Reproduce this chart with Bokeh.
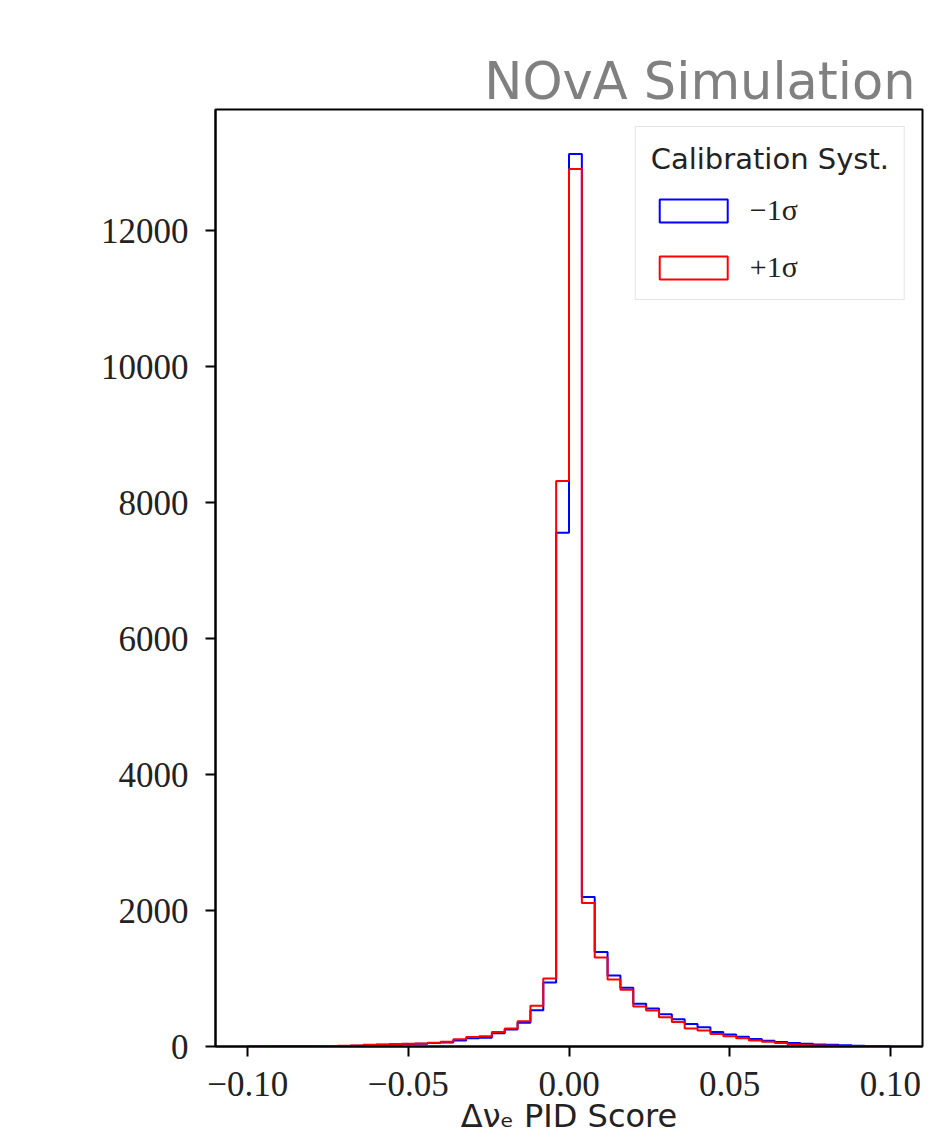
import numpy as np
from bokeh.plotting import figure
from bokeh.models import (Range1d, FixedTicker, CustomJSTickFormatter, Legend,
                          LegendItem)
from bokeh.embed import file_html
from bokeh.resources import INLINE

# ---- data -------------------------------------------------------------
bin_lo = -0.10
bin_hi = 0.10
n_bins = 50
bin_edges = np.round(np.linspace(bin_lo, bin_hi, n_bins + 1), 4)

# Calibration syst. -1 sigma (blue)
counts_minus = [1, 1, 2, 2, 3, 4, 6, 8, 12, 20,
                25, 30, 35, 40, 50, 60, 90, 120, 130, 195,
                250, 350, 535, 940, 7560, 13130, 2200, 1390, 1045, 865,
                630, 560, 475, 400, 330, 285, 215, 175, 145, 110,
                85, 65, 50, 40, 30, 24, 18, 12, 7, 3]
# Calibration syst. +1 sigma (red)
counts_plus = [1, 2, 2, 3, 4, 5, 7, 10, 15, 25,
               30, 35, 40, 45, 55, 70, 105, 140, 150, 215,
               265, 370, 600, 1000, 8320, 12910, 2110, 1310, 985, 835,
               590, 530, 430, 360, 265, 235, 185, 150, 120, 90,
               70, 50, 30, 20, 14, 10, 7, 5, 3, 1]

series_labels = ["\u22121\u03c3", "+1\u03c3"]
series_colors = ["#0000ff", "#ff0000"]
x_ticks = [-0.10, -0.05, 0.00, 0.05, 0.10]
y_ticks = [0, 2000, 4000, 6000, 8000, 10000, 12000]


def step_outline(edges, counts):
    xs, ys = [edges[0]], [0]
    for i, c in enumerate(counts):
        xs += [edges[i], edges[i + 1]]
        ys += [c, c]
    xs.append(edges[-1])
    ys.append(0)
    return xs, ys


ymax = max(max(counts_minus), max(counts_plus)) * 1.05
xpad = (bin_hi - bin_lo) * 0.05

p = figure(width=937, height=1137, output_backend="svg", toolbar_location=None,
           x_range=Range1d(bin_lo - xpad, bin_hi + xpad), y_range=Range1d(0, ymax),
           min_border_left=215, min_border_right=15, min_border_top=109,
           min_border_bottom=91)
p.background_fill_color = "white"
p.border_fill_color = "white"
p.outline_line_color = "black"
p.outline_line_width = 2
p.xgrid.visible = False
p.ygrid.visible = False

# title
p.title.text = "NOvA Simulation"
p.title.align = "right"
p.title.text_font = "DejaVu Sans"
p.title.text_font_size = "51px"
p.title.text_font_style = "normal"
p.title.text_color = "#808080"
p.title.standoff = -2
p.title.offset = 7

# histograms
renderers = []
for counts, color in zip([counts_minus, counts_plus], series_colors):
    xs, ys = step_outline(bin_edges, counts)
    p.line(xs, ys, line_color=color, line_width=2)
    # legend-only patch (no drawable coordinates)
    lr = p.quad(left=[np.nan], right=[np.nan], top=[np.nan], bottom=[np.nan],
                fill_color="white", fill_alpha=0.0,
                line_color=color, line_width=2)
    renderers.append(lr)

# axes
for ax in (p.xaxis[0], p.yaxis[0]):
    ax.axis_line_color = "black"
    ax.axis_line_width = 2
    ax.major_tick_line_color = "black"
    ax.major_tick_line_width = 2
    ax.major_tick_out = 10
    ax.major_tick_in = 0
    ax.minor_tick_line_color = None
    ax.major_label_text_font = "Liberation Serif"
    ax.major_label_text_font_size = "35px"
    ax.major_label_text_color = "#222222"

p.xaxis.ticker = FixedTicker(ticks=x_ticks)
p.xaxis.formatter = CustomJSTickFormatter(
    code="return (tick < -1e-9 ? '\\u2212' : '') + Math.abs(tick).toFixed(2);")
p.xaxis.major_label_standoff = 15
p.xaxis.axis_label = "\u0394\u03bd\u2091 PID Score"
p.xaxis.axis_label_text_font = "DejaVu Sans"
p.xaxis.axis_label_text_font_size = "32px"
p.xaxis.axis_label_text_font_style = "normal"
p.xaxis.axis_label_text_color = "#222222"
p.xaxis.axis_label_standoff = -2

p.yaxis.ticker = FixedTicker(ticks=y_ticks)
p.yaxis.formatter = CustomJSTickFormatter(code="return tick.toFixed(0);")
p.yaxis.major_label_standoff = 17

legend = Legend(items=[LegendItem(label=series_labels[i], renderers=[renderers[i]])
                       for i in range(2)],
                location="top_right")
legend.title = "Calibration Syst."
legend.title_text_font = "DejaVu Sans"
legend.title_text_font_size = "29px"
legend.title_text_font_style = "normal"
legend.title_text_color = "#222222"
legend.title_standoff = 17
legend.label_text_font = "Liberation Serif"
legend.label_text_font_size = "30px"
legend.label_text_color = "#222222"
legend.glyph_width = 85
legend.glyph_height = 29
legend.label_height = 29
legend.label_standoff = 14
legend.spacing = 23
legend.padding = 15
legend.margin = 17
legend.border_line_color = "#cccccc"
legend.border_line_width = 1.5
legend.background_fill_alpha = 0.8
p.add_layout(legend)

open("out.html", "w").write(file_html(p, INLINE))
